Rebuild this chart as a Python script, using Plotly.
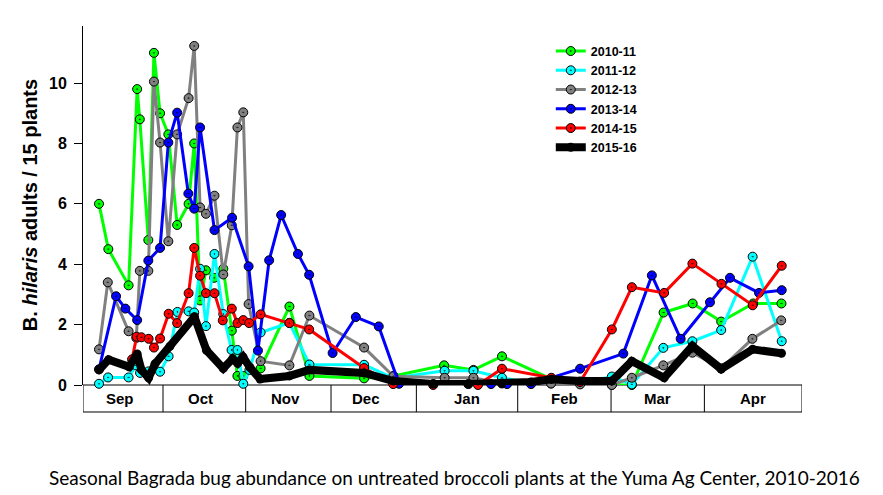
import plotly.graph_objects as go

# ---- data (x = day units along the season axis, y = adults / 15 plants) ----
season_names = ["2010-11", "2011-12", "2012-13", "2013-14", "2014-15", "2015-16"]

x_2010 = [6.0, 9.5, 17.1, 20.3, 21.3, 24.5, 26.6, 28.9, 32.0, 35.3, 39.6, 41.7, 43.9, 46.1, 49.2, 52.6,
          55.8, 57.9, 60.1, 66.6, 77.4, 84.9, 105.4, 116.4, 135.4, 146.4, 157.1, 175.5, 186.4, 198.3,
          205.8, 217.7, 228.6, 239.3, 251.3, 261.9]
y_2010 = [6.0, 4.5, 3.3, 9.8, 8.8, 4.8, 11.0, 9.0, 8.3, 5.3, 6.0, 8.0, 2.8, 3.8, 3.55, 3.85,
          1.8, 0.3, 0.3, 0.55, 2.6, 0.3, 0.22, 0.3, 0.65, 0.5, 0.95, 0.2, 0.1, 0.0,
          0.0, 2.4, 2.7, 2.1, 2.7, 2.7]

x_2011 = [6.0, 9.4, 17.1, 19.9, 21.4, 24.5, 28.9, 32.1, 35.4, 39.6, 41.7, 43.9, 46.1, 49.3, 52.6, 55.7,
          57.9, 60.1, 62.4, 66.6, 77.4, 84.9, 105.4, 116.4, 135.6, 146.4, 157.1, 168.0, 175.5, 186.4,
          198.3, 205.8, 217.6, 228.5, 239.3, 251.1, 262.0]
y_2011 = [0.04, 0.25, 0.25, 0.65, 0.4, 0.45, 0.44, 0.95, 2.42, 2.44, 2.4, 3.85, 1.95, 4.34, 2.35, 1.16,
          1.16, 0.04, 0.5, 1.74, 2.06, 0.68, 0.67, 0.23, 0.47, 0.47, 0.24, 0.06, 0.05, 0.05,
          0.28, 0.02, 1.23, 1.45, 1.82, 4.25, 1.45]

x_2012 = [6.0, 9.3, 17.1, 20.0, 21.3, 24.5, 26.6, 28.9, 32.0, 35.3, 39.6, 41.7, 43.9, 46.1, 49.3, 52.6,
          55.8, 57.9, 60.1, 62.1, 66.6, 77.4, 84.9, 105.4, 116.4, 135.6, 146.4, 157.1, 175.5, 186.4,
          198.3, 205.8, 217.6, 228.5, 239.3, 251.0, 261.8]
y_2012 = [1.18, 3.4, 1.78, 1.56, 3.78, 3.78, 10.05, 8.03, 4.76, 8.3, 9.5, 11.23, 5.88, 5.67, 6.27, 3.66,
          5.29, 8.53, 9.03, 2.68, 0.79, 0.65, 2.3, 1.24, 0.29, 0.24, 0.24, 0.05, 0.05, 0.02,
          0.0, 0.24, 0.65, 1.07, 0.55, 1.53, 2.14]

x_2013 = [6.0, 12.4, 15.9, 20.3, 24.5, 28.9, 32.0, 35.3, 39.5, 41.7, 43.9, 49.3, 55.9, 62.1, 65.6, 69.8,
          74.3, 80.6, 84.8, 93.6, 102.3, 110.9, 118.5, 131.4, 144.5, 153.0, 159.0, 168.0, 186.4, 202.6,
          213.3, 224.1, 235.1, 242.6, 253.5, 262.0]
y_2013 = [0.52, 2.94, 2.53, 2.15, 4.12, 4.54, 8.03, 9.02, 6.34, 5.84, 8.53, 5.13, 5.54, 3.93, 1.14, 4.13,
          5.63, 4.34, 3.65, 1.06, 2.25, 1.94, 0.04, 0.03, 0.03, 0.03, 0.03, 0.03, 0.54, 1.04,
          3.63, 1.53, 2.74, 3.55, 3.05, 3.14]

x_2014 = [18.4, 20.1, 21.9, 24.6, 26.6, 28.9, 32.1, 35.3, 39.6, 41.7, 43.9, 46.1, 49.3, 52.4, 55.8, 57.9,
          60.1, 62.3, 66.6, 77.4, 84.8, 105.4, 116.3, 131.3, 148.1, 157.1, 175.6, 186.4, 198.3, 205.8,
          217.9, 228.5, 239.4, 251.1, 262.0]
y_2014 = [0.85, 1.6, 1.58, 1.53, 1.24, 1.54, 2.36, 2.05, 3.04, 4.54, 3.62, 3.04, 3.04, 2.14, 2.53, 2.05,
          2.15, 2.05, 2.34, 2.05, 1.84, 0.56, 0.03, 0.0, 0.0, 0.54, 0.24, 0.1, 1.84, 3.24,
          3.05, 4.02, 3.35, 2.64, 3.95]

x_2015 = [6.0, 9.6, 17.3, 20.3, 21.9, 24.6, 27.0, 32.6, 41.8, 46.3, 52.6, 56.1, 58.0, 60.0, 62.6, 66.4,
          77.4, 84.9, 105.4, 116.4, 131.3, 144.4, 157.1, 168.0, 175.7, 186.4, 198.3, 205.8, 217.9, 228.5,
          239.3, 251.1, 261.9]
y_2015 = [0.5, 0.84, 0.6, 1.03, 0.5, 0.24, 0.7, 1.28, 2.26, 1.15, 0.55, 0.87, 0.72, 0.93, 0.58, 0.2,
          0.3, 0.5, 0.4, 0.13, 0.03, 0.03, 0.05, 0.1, 0.19, 0.13, 0.13, 0.79, 0.24, 1.29,
          0.53, 1.18, 1.05]

month_labels = ["Sep", "Oct", "Nov", "Dec", "Jan", "Feb", "Mar", "Apr"]
month_edges = [0, 30, 61, 93, 125, 163, 198, 233, 269.6]
month_label_pos = [13.9, 43.9, 75.9, 106.1, 144.0, 180.6, 215.4, 251.3]
y_ticks = [0, 2, 4, 6, 8, 10]

xs = [x_2010, x_2011, x_2012, x_2013, x_2014, x_2015]
ys = [y_2010, y_2011, y_2012, y_2013, y_2014, y_2015]
colors = ["#00FF00", "#00FFFF", "#808080", "#0000FF", "#FF0000", "#000000"]

fig = go.Figure()
for i, name in enumerate(season_names):
    if name == "2015-16":
        fig.add_trace(go.Scatter(
            x=xs[i], y=ys[i], name=name, mode="lines+markers",
            line=dict(color="black", width=8),
            marker=dict(symbol="circle", size=9, color="black"),
            cliponaxis=False))
    else:
        fig.add_trace(go.Scatter(
            x=xs[i], y=ys[i], name=name, mode="lines+markers",
            line=dict(color=colors[i], width=3),
            marker=dict(symbol="circle-dot", size=9, color=colors[i],
                        line=dict(color="black", width=1)),
            cliponaxis=False))

box_bottom = -0.0752
shapes = [dict(type="rect", xref="x", yref="paper", x0=month_edges[0], x1=month_edges[-1],
               y0=box_bottom, y1=0, line=dict(color="black", width=1), layer="below")]
for e in month_edges[1:-1]:
    shapes.append(dict(type="line", xref="x", yref="paper", x0=e, x1=e, y0=box_bottom, y1=0,
                       line=dict(color="black", width=1), layer="below"))

annotations = []
for lab, pos in zip(month_labels, month_label_pos):
    annotations.append(dict(text="<b>" + lab + "</b>", x=pos, xref="x", y=box_bottom / 2, yref="paper",
                            showarrow=False, xanchor="center", yanchor="middle",
                            font=dict(family="Arial", size=15, color="black")))
annotations.append(dict(text="<b>B. <i>hilaris</i> adults / 15 plants</b>", textangle=-90,
                        x=-0.0737, xref="paper", y=0.501, yref="paper", showarrow=False,
                        xanchor="center", yanchor="middle",
                        font=dict(family="Arial", size=20, color="black")))
annotations.append(dict(text="Seasonal Bagrada bug abundance on untreated broccoli plants at the Yuma Ag Center, 2010-2016",
                        x=0.5167, xref="paper", y=-0.259, yref="paper", showarrow=False,
                        xanchor="center", yanchor="middle",
                        font=dict(family="Lato", size=19, color="black")))

fig.update_layout(
    width=883, height=495,
    margin=dict(l=75, r=89, t=18, b=118),
    paper_bgcolor="white", plot_bgcolor="rgba(0,0,0,0)",
    showlegend=True,
    legend=dict(x=0.6506, y=0.971, xanchor="left", yanchor="top", bgcolor="rgba(0,0,0,0)",
                font=dict(family="Arial", size=12.5, color="black", weight="bold"),
                tracegroupgap=0),
    xaxis=dict(range=[0, 269.6], showticklabels=False, showgrid=False, zeroline=False,
               showline=False, ticks="", automargin=False),
    yaxis=dict(range=[0, 11.89], tickvals=y_ticks, showgrid=False, zeroline=False,
               showline=True, linecolor="black", linewidth=1, ticks="outside", ticklen=8,
               tickcolor="black", ticklabelstandoff=4, automargin=False,
               tickfont=dict(family="Arial", size=16, color="black", weight="bold")),
    shapes=shapes, annotations=annotations,
)

fig.write_html("out.html")
